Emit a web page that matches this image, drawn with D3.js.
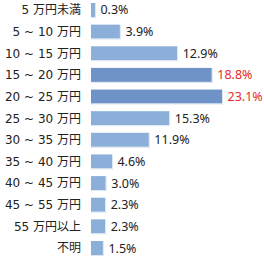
<!DOCTYPE html>
<html><head><meta charset="utf-8">
<script src="https://cdn.jsdelivr.net/npm/d3@7"></script>
<style>body{margin:0;background:#fff}svg{display:block}</style>
</head><body>
<script>
const categories = ["5 万円未満","5 ~ 10 万円","10 ~ 15 万円","15 ~ 20 万円","20 ~ 25 万円","25 ~ 30 万円","30 ~ 35 万円","35 ~ 40 万円","40 ~ 45 万円","45 ~ 55 万円","55 万円以上","不明"];
const barValues = [0.7, 5.1, 15.2, 21.3, 23.1, 13.8, 10.2, 3.7, 2.6, 2.5, 2.5, 2.1];
const valueLabels = ["0.3%","3.9%","12.9%","18.8%","23.1%","15.3%","11.9%","4.6%","3.0%","2.3%","2.3%","1.5%"];
const highlighted = ["15 ~ 20 万円","20 ~ 25 万円"];

const W = 264, H = 257;
const svg = d3.select("body").append("svg").attr("width", W).attr("height", H);
const y = d3.scaleBand().domain(categories).range([3, 255]).paddingInner(0.353).paddingOuter(0);
const x = d3.scaleLinear().domain([0, 23.1]).range([91, 222]);
const catFont = "'DejaVu Sans','Noto Sans CJK JP',sans-serif";
const valFont = "'Noto Sans','DejaVu Sans',sans-serif";

const rows = svg.selectAll("g.row").data(categories).join("g").attr("class","row");
rows.append("rect")
  .attr("x", x(0)).attr("y", d => y(d))
  .attr("width", (d,i) => x(barValues[i]) - x(0)).attr("height", y.bandwidth())
  .attr("fill", d => highlighted.includes(d) ? "#7093c7" : "#8bafd8");
rows.append("line")
  .attr("x1", x(0)).attr("x2", (d,i) => x(barValues[i]) + 0.5)
  .attr("y1", d => y(d) + y.bandwidth() + 0.5).attr("y2", d => y(d) + y.bandwidth() + 0.5)
  .attr("stroke", "#dce6f2").attr("stroke-width", 1);
rows.append("line")
  .attr("x1", (d,i) => x(barValues[i]) + 0.5).attr("x2", (d,i) => x(barValues[i]) + 0.5)
  .attr("y1", d => y(d)).attr("y2", d => y(d) + y.bandwidth() + 1)
  .attr("stroke", "#dce6f2").attr("stroke-width", 1);
rows.append("text")
  .attr("x", 81).attr("y", d => y(d) + y.bandwidth()/2)
  .attr("dy", "0.36em").attr("text-anchor", "end")
  .attr("font-family", catFont).attr("font-size", 12).attr("fill", "#222")
  .text(d => d);
rows.append("text")
  .attr("x", (d,i) => x(barValues[i]) + 5.5).attr("y", d => y(d) + y.bandwidth()/2)
  .attr("dy", "0.36em")
  .attr("font-family", valFont).attr("font-size", 12.5)
  .attr("fill", d => highlighted.includes(d) ? "#e8282c" : "#222")
  .text((d,i) => valueLabels[i]);
</script>
</body></html>
